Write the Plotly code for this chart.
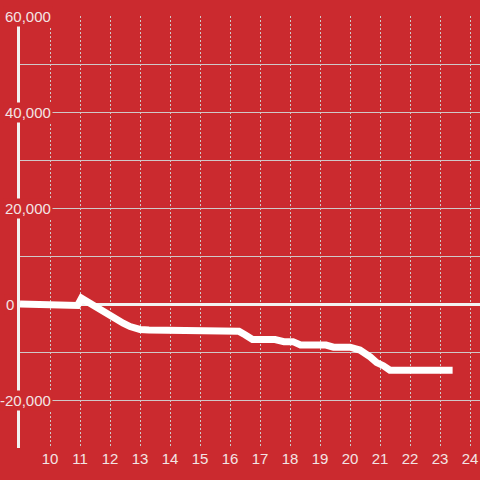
import plotly.graph_objects as go

hours = [9.0, 10.67, 10.8, 10.92, 11.05, 11.33, 11.56, 11.78, 12.0, 12.22, 12.44, 12.67, 13.0, 13.3,
         16.0, 16.3, 16.5, 16.75, 17.5, 17.8, 18.1, 18.35, 19.2, 19.45, 20.0, 20.33, 20.67, 20.89,
         21.11, 21.33, 23.42]
values = [0, 0, -300, -300, 1200, 100, -700, -1600, -2400, -3000, -4000, -4700, -5300, -5400,
          -5400, -5700, -6400, -7400, -7400, -7850, -7850, -8550, -8550, -9000, -9000, -9600,
          -11000, -12200, -12850, -13800, -13800]

x_ticks = list(range(10, 25))
y_label_vals = [60000, 40000, 20000, 0, -20000]
y_label_text = ["60,000", "40,000", "20,000", "0", "-20,000"]

BG = "#CB2A2F"
LBL = "#F3E4E4"
GRID = "#D0C8C8"

fig = go.Figure()
fig.add_trace(go.Scatter(x=hours, y=values, mode="lines",
                         line=dict(color="white", width=7), hoverinfo="skip"))

for v, t in zip(y_label_vals, y_label_text):
    shift = -4 if t == "0" else 33
    fig.add_annotation(x=0, xref="paper", y=v, yref="y", text=t, showarrow=False,
                       xanchor="right", yanchor="middle", xshift=shift,
                       bgcolor=BG, borderpad=1,
                       font=dict(family="Liberation Sans, Arial, sans-serif", size=15, color=LBL))

fig.update_layout(
    width=480, height=480,
    margin=dict(l=20, r=0, t=16, b=32),
    paper_bgcolor=BG, plot_bgcolor=BG,
    showlegend=False,
    font=dict(family="Liberation Sans, Arial, sans-serif", size=15, color=LBL),
    xaxis=dict(range=[9, 24.333], tickvals=x_ticks, showgrid=True, gridcolor=GRID,
               griddash="2px,2px", gridwidth=1, zeroline=False, showline=False,
               ticks="", tickfont=dict(size=15, color=LBL)),
    yaxis=dict(range=[-30000, 60000], dtick=10000, showgrid=True, gridcolor=GRID,
               gridwidth=1, showticklabels=False, ticks="",
               zeroline=True, zerolinecolor="#F2F2F2", zerolinewidth=3,
               showline=True, linecolor="#F2F2F2", linewidth=3),
)

fig.write_html("out.html", config={"displayModeBar": False},
               post_script="document.body.style.margin='0';document.body.style.background='" + BG + "';")
